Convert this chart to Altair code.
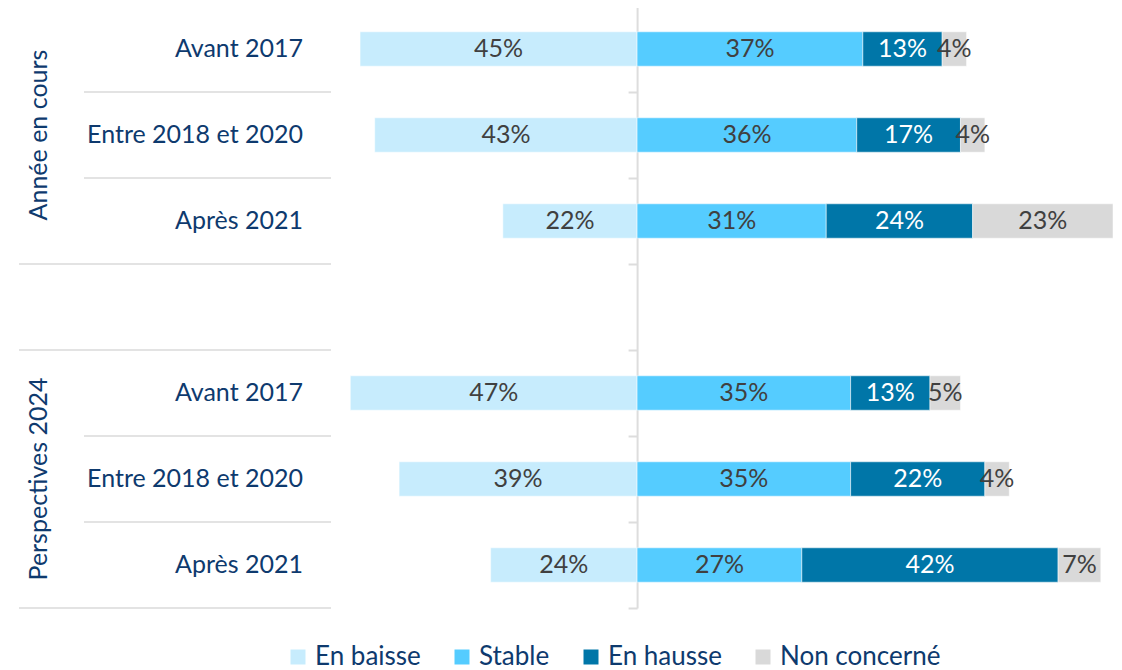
import altair as alt
import pandas as pd

groups = ["Année en cours", "Perspectives 2024"]
periods = ["Avant 2017", "Entre 2018 et 2020", "Après 2021"]
series = ["En baisse", "Stable", "En hausse", "Non concerné"]
colors = ["#C7ECFD", "#55CCFF", "#0076A8", "#D9D9D9"]

en_baisse = [45.4, 43, 22, 47, 39, 24]
stable = [37, 36, 31, 35, 35, 27]
en_hausse = [13, 17, 24, 13, 22, 42]
non_concerne = [4, 4, 23, 5, 4, 7]

NAVY = "#0E3A6E"
FONT = "Lato"
FS = 25

# build rows (index with one empty row between the two groups)
rows = []
seg = []
i = 0
for g_i, g in enumerate(groups):
    for p_i, p in enumerate(periods):
        r = g_i * (len(periods) + 1) + p_i
        rows.append({"row": r, "group": g, "period": p})
        b, s, h, n = en_baisse[i], stable[i], en_hausse[i], non_concerne[i]
        starts = [-b, 0, s, s + h]
        vals = [b, s, h, n]
        for k, name in enumerate(series):
            seg.append({
                "row": r, "serie": name, "value": vals[k],
                "x": starts[k], "x2": starts[k] + vals[k],
                "label": f"{round(vals[k])}%",
            })
        i += 1

seg_df = pd.DataFrame(seg)
seg_df["y"] = seg_df["row"] - 0.2
seg_df["y2"] = seg_df["row"] + 0.2
seg_df["mid"] = (seg_df["x"] + seg_df["x2"]) / 2
rows_df = pd.DataFrame(rows)

n_rows = len(groups) * (len(periods) + 1) - 1
group_bounds = [-0.5, 2.5, 3.5, 6.5]
inner_bounds = [0.5, 1.5, 4.5, 5.5]
all_bounds = sorted(group_bounds + inner_bounds)

H = 602
W_BARS = 781
W_LEFT = 313
XDOM = [-50, 78]

yscale = alt.Scale(domain=[-0.5, n_rows - 0.5], reverse=True, nice=False, zero=False)
xscale = alt.Scale(domain=XDOM, nice=False, zero=False)
zero_off = -(0 - XDOM[0]) / (XDOM[1] - XDOM[0]) * W_BARS

# ---------- bar panel ----------
bars = alt.Chart(seg_df).mark_bar(stroke="white", strokeWidth=0.5).encode(
    x=alt.X("x:Q", scale=xscale, axis=None),
    x2="x2:Q",
    y=alt.Y("y:Q", scale=yscale,
            axis=alt.Axis(orient="left", offset=zero_off, values=all_bounds,
                          labels=False, title=None, grid=False,
                          tickSize=9, tickWidth=2, tickColor="#DDDDDD",
                          domainColor="#DDDDDD", domainWidth=2)),
    y2="y2:Q",
    color=alt.Color("serie:N", scale=alt.Scale(domain=series, range=colors),
                    legend=alt.Legend(
                        orient="none", direction="horizontal", legendX=266, legendY=638,
                        title=None, symbolType="square", symbolSize=225,
                        symbolStrokeWidth=0, symbolOpacity=1,
                        labelFontSize=26, labelFont=FONT, labelColor=NAVY,
                        columnPadding=28, labelOffset=4, columns=4, labelLimit=300)),
)

labels = alt.Chart(seg_df).mark_text(fontSize=FS, font=FONT, baseline="middle", align="center").encode(
    x=alt.X("mid:Q", scale=xscale),
    y=alt.Y("row:Q", scale=yscale),
    text="label:N",
    color=alt.condition(alt.datum.serie == "En hausse", alt.value("white"), alt.value("#404040")),
)

bar_panel = alt.layer(bars, labels).properties(width=W_BARS, height=H)

# ---------- label panel ----------
bounds_df = pd.DataFrame({"b": all_bounds,
                          "kind": ["group" if b in group_bounds else "inner" for b in all_bounds]})

rule_group = alt.Chart(bounds_df).transform_filter(alt.datum.kind == "group").mark_rule(
    color="#E3E3E3", strokeWidth=2).encode(
    y=alt.Y("b:Q", scale=yscale, axis=None), x=alt.value(0), x2=alt.value(W_LEFT - 1))
rule_inner = alt.Chart(bounds_df).transform_filter(alt.datum.kind == "inner").mark_rule(
    color="#E3E3E3", strokeWidth=2).encode(
    y=alt.Y("b:Q", scale=yscale, axis=None), x=alt.value(65), x2=alt.value(W_LEFT - 1))

row_text = alt.Chart(rows_df).mark_text(
    fontSize=FS, font=FONT, color=NAVY, align="right", baseline="middle").encode(
    y=alt.Y("row:Q", scale=yscale, axis=None), x=alt.value(284), text="period:N")

group_text = alt.Chart(rows_df).transform_aggregate(
    row="mean(row)", groupby=["group"]).mark_text(
    fontSize=FS, font=FONT, color=NAVY, align="center", baseline="middle", angle=270).encode(
    y=alt.Y("row:Q", scale=yscale, axis=None), x=alt.value(20), text="group:N")

left_panel = alt.layer(rule_group, rule_inner, row_text, group_text).properties(width=W_LEFT, height=H)

chart = alt.hconcat(left_panel, bar_panel, spacing=0).resolve_scale(y="independent").properties(
    padding={"left": 10, "top": -3, "right": 0, "bottom": 0}
).configure_view(stroke=None)

chart.save("out.html", embed_options={"renderer": "svg", "actions": False})
